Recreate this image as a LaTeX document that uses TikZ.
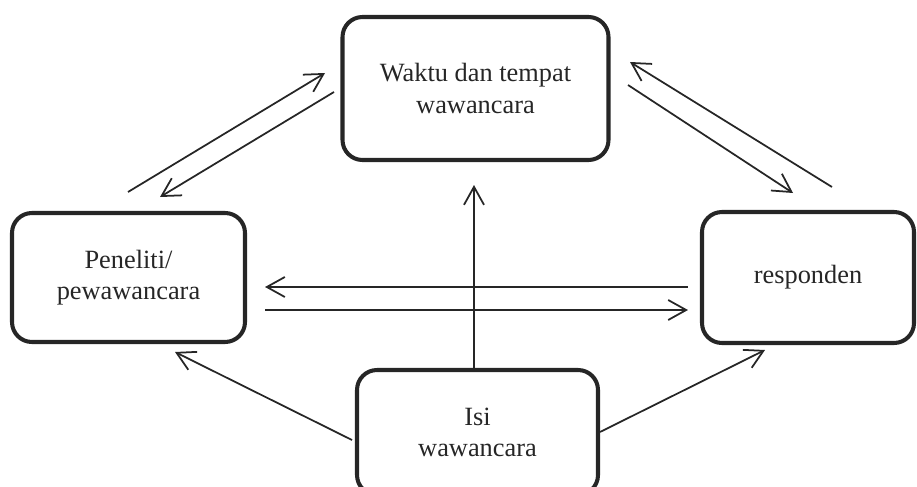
\documentclass[tikz,border=0pt]{standalone}
\usepackage{fontspec}
\setmainfont{Liberation Serif}
\usetikzlibrary{arrows.meta}

\tikzset{
  box/.style={draw=black!85, line width=2.3pt, rounded corners=0.4cm, align=center,
    inner sep=0pt, font=\fontsize{15}{18}\selectfont, text=black!85},
  arr/.style={draw=black!85, line width=1pt,
    -{Straight Barb[length=3.6mm, width=4mm, line width=1pt]}}
}

\begin{document}
\begin{tikzpicture}

% Frame
\useasboundingbox (0,0) rectangle (18.34,9.72);
\clip (0,0) rectangle (18.34,9.72);

% === BOXES ===
\node[box, minimum width=5.32cm, minimum height=2.86cm] (wkt) at (9.51,7.95) {Waktu dan tempat\\wawancara};
\node[box, minimum width=4.66cm, minimum height=2.58cm] (pen) at (2.57,4.17) {Peneliti/\\pewawancara};
\node[box, minimum width=4.24cm, minimum height=2.62cm] (res) at (16.16,4.17) {responden};
\node[box, minimum width=4.82cm, minimum height=2.5cm] (isi) at (9.55,1.07) {Isi\\wawancara};

% === DIAGONAL END POINTS ===
\coordinate (penUp) at (2.56,5.88);
\coordinate (wktInL) at (6.50,8.26);
\coordinate (wktOutL) at (6.68,7.88);
\coordinate (penIn) at (3.20,5.78);
\coordinate (resUp) at (16.64,5.98);
\coordinate (wktInR) at (12.60,8.48);
\coordinate (wktOutR) at (12.56,8.02);
\coordinate (resIn) at (15.86,5.86);
\coordinate (isiL) at (7.04,0.92);
\coordinate (penLow) at (3.50,2.68);
\coordinate (isiR) at (12.00,1.08);
\coordinate (resLow) at (15.30,2.72);

% === CONNECTORS ===
\draw[arr] (penUp) -- (wktInL);
\draw[arr] (wktOutL) -- (penIn);
\draw[arr] (resUp) -- (wktInR);
\draw[arr] (wktOutR) -- (resIn);

\draw[arr, shorten <=0.24cm, shorten >=0.36cm] ([yshift=-0.19cm]res.west) -- ([yshift=-0.19cm]pen.east);
\draw[arr, shorten <=0.36cm, shorten >=0.24cm] ([yshift=-0.65cm]pen.east) -- ([yshift=-0.65cm]res.west);

\draw[arr, shorten >=0.46cm] ([xshift=-0.07cm]isi.north) -- ([xshift=-0.03cm]wkt.south);

\draw[arr] (isiL) -- (penLow);
\draw[arr] (isiR) -- (resLow);

\end{tikzpicture}
\end{document}
